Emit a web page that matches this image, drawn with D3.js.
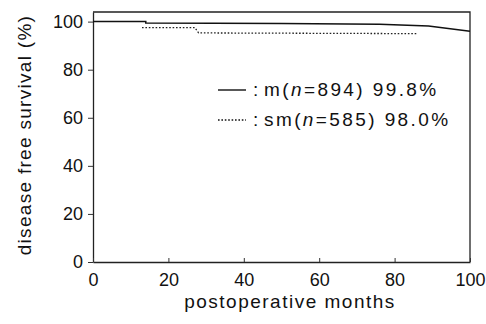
<!DOCTYPE html>
<html lang="en">
<head>
    <meta charset="UTF-8">
    <title>Disease free survival</title>
    <script src="https://d3js.org/d3.v7.min.js"></script>
    <style>
        body { margin: 0; background: #fff; }
        text { font-family: "Liberation Sans", Arial, sans-serif; fill: #111; }
    </style>
</head>
<body>
    <div id="chart"></div>

    <script>
        // survival curves
        const monthsM = [0, 14, 14, 50, 76, 89, 100];
        const survM = [100, 100, 99.4, 99.2, 98.9, 98.2, 96.0];
        const monthsSM = [13, 27, 28, 86];
        const survSM = [97.5, 97.5, 95.3, 95.0];

        const xTicks = [0, 20, 40, 60, 80, 100];
        const yTicks = [0, 20, 40, 60, 80, 100];
        const legendLabels = [
            { name: "m", n: "894", pct: "99.8%", dash: null },
            { name: "sm", n: "585", pct: "98.0%", dash: "1.6,1.8" }
        ];

        const W = 486, H = 324;
        const margin = {top: 12, right: 16, bottom: 62, left: 93},
            width = W - margin.left - margin.right,
            height = H - margin.top - margin.bottom;

        const svg = d3.select("#chart")
            .append("svg")
            .attr("width", W)
            .attr("height", H)
            .append("g")
            .attr("transform", `translate(${margin.left}, ${margin.top})`);

        const x = d3.scaleLinear().domain([0, 100]).range([0, width]);
        const y = d3.scaleLinear().domain([0, 104]).range([height, 0]);

        // frame top + right
        svg.append("path")
            .attr("d", `M0,0H${width}V${height}`)
            .attr("fill", "none")
            .attr("stroke", "#222")
            .attr("stroke-width", 1.3);

        // y axis, ticks outside
        const yAxis = svg.append("g")
            .call(d3.axisLeft(y).tickValues(yTicks).tickSize(5).tickSizeOuter(0).tickPadding(5));
        yAxis.select(".domain").attr("stroke", "#222").attr("stroke-width", 1.3);
        yAxis.selectAll(".tick line").attr("stroke", "#333");
        yAxis.selectAll(".tick text").attr("font-size", 18).style("font-family", "Liberation Sans, Arial, sans-serif");

        // x axis, ticks pointing inward
        const xAxis = svg.append("g")
            .attr("transform", `translate(0, ${height})`)
            .call(d3.axisBottom(x).tickValues(xTicks).tickSize(-4).tickSizeOuter(0).tickPadding(11));
        xAxis.select(".domain").attr("stroke", "#222").attr("stroke-width", 1.3);
        xAxis.selectAll(".tick line").attr("stroke", "#333");
        xAxis.selectAll(".tick text").attr("font-size", 18).style("font-family", "Liberation Sans, Arial, sans-serif");

        // axis titles
        svg.append("text")
            .attr("x", 197)
            .attr("y", height + 46)
            .attr("text-anchor", "middle")
            .attr("font-size", 19)
            .attr("letter-spacing", 1.5)
            .text("postoperative months");

        svg.append("text")
            .attr("transform", "rotate(-90)")
            .attr("x", -123)
            .attr("y", -62)
            .attr("text-anchor", "middle")
            .attr("font-size", 19)
            .attr("letter-spacing", 1.3)
            .text("disease free survival (%)");

        // curves
        const line = d3.line().x(d => x(d[0])).y(d => y(d[1]));

        svg.append("path")
            .datum(monthsM.map((m, i) => [m, survM[i]]))
            .attr("d", line)
            .attr("fill", "none")
            .attr("stroke", "#111")
            .attr("stroke-width", 1.5);

        svg.append("path")
            .datum(monthsSM.map((m, i) => [m, survSM[i]]))
            .attr("d", line)
            .attr("fill", "none")
            .attr("stroke", "#222")
            .attr("stroke-width", 1.3)
            .attr("stroke-dasharray", "1.6,1.8");

        // legend
        const legend = svg.append("g").attr("transform", "translate(125, 78)");
        legendLabels.forEach((d, i) => {
            const g = legend.append("g").attr("transform", `translate(0, ${i * 30})`);
            g.append("line")
                .attr("x1", 0).attr("x2", 28)
                .attr("y1", 0).attr("y2", 0)
                .attr("stroke", "#111")
                .attr("stroke-width", 1.4)
                .attr("stroke-dasharray", d.dash);
            g.append("text")
                .attr("x", 35)
                .attr("y", 6)
                .attr("font-size", 19)
                .text(":");
            const t = g.append("text")
                .attr("x", 46)
                .attr("y", 6)
                .attr("font-size", 19)
                .attr("letter-spacing", 2.4);
            t.append("tspan").text(d.name + "(");
            t.append("tspan").attr("font-style", "italic").text("n");
            t.append("tspan").text("=" + d.n + ") " + d.pct);
        });
    </script>
</body>
</html>
